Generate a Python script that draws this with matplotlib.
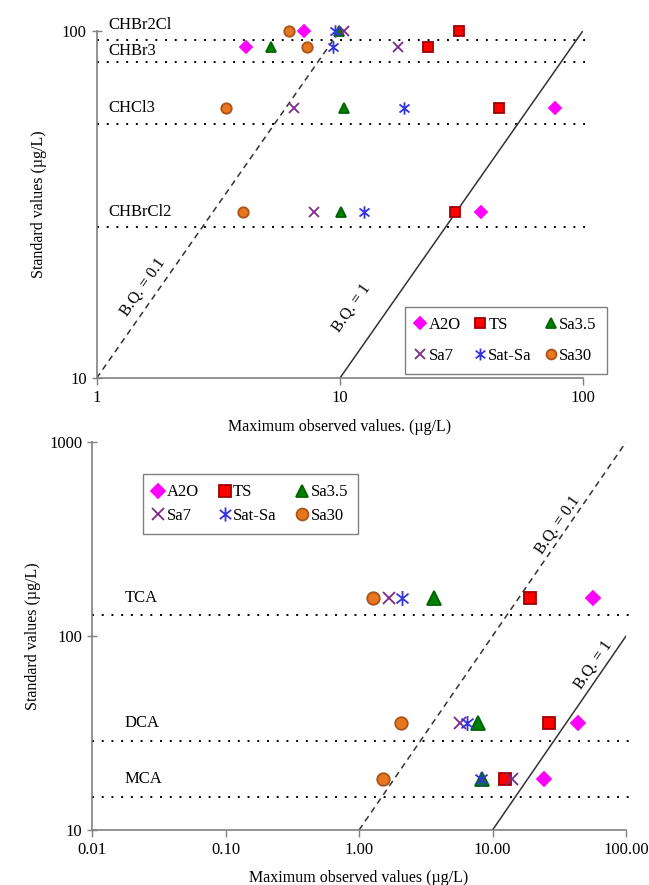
import math
import matplotlib
matplotlib.use("Agg")
import matplotlib.pyplot as plt
from matplotlib.path import Path
from matplotlib.lines import Line2D
from matplotlib.ticker import NullLocator

plt.rcParams['font.family'] = ['Liberation Serif', 'DejaVu Serif']
plt.rcParams['font.size'] = 11.5

series = ["A2O", "TS", "Sa3.5", "Sa7", "Sat-Sa", "Sa30"]

# top panel: trihalomethanes
thm_names = ["CHBr2Cl", "CHBr3", "CHCl3", "CHBrCl2"]
thm_standard = [100, 90, 60, 30]
thm_guide = [94, 81.5, 54, 27.2]
thm_values = {
    "A2O": [7.1, 4.1, 77, 38],
    "TS": [31, 23, 45, 29.8],
    "Sa3.5": [9.9, 5.2, 10.4, 10.1],
    "Sa7": [10.4, 17.4, 6.5, 7.8],
    "Sat-Sa": [9.6, 9.4, 18.3, 12.6],
    "Sa30": [6.2, 7.3, 3.4, 4.0],
}

# bottom panel: haloacetic acids
haa_names = ["TCA", "DCA", "MCA"]
haa_standard = [157, 35.6, 18.4]
haa_guide = [128, 28.8, 14.8]
haa_values = {
    "A2O": [57, 43.7, 24.5],
    "TS": [19, 26.7, 12.3],
    "Sa3.5": [3.66, 7.8, 8.3],
    "Sa7": [1.69, 5.67, 14.1],
    "Sat-Sa": [2.1, 6.4, 8.2],
    "Sa30": [1.27, 2.05, 1.52],
}

# B.Q. reference lines: y = x / bq
bq_ratios = [0.1, 1]
thm_bq_top = [95, 100]
haa_bq_top = [1000, 100]

star = Path([(0, -1), (0, 1), (-0.8, -0.65), (0.8, 0.65), (-0.8, 0.65), (0.8, -0.65)],
            [Path.MOVETO, Path.LINETO] * 3)

styles = {
    "A2O": dict(marker="D", color="#FF00FF", mec="#FF00FF", size=0.8),
    "TS": dict(marker="s", color="#FF0000", mec="#A00000", size=1.0),
    "Sa3.5": dict(marker="^", color="#008000", mec="#006400", size=1.05),
    "Sa7": dict(marker="x", color="#7B2A8A", mec="#7B2A8A", size=1.0),
    "Sat-Sa": dict(marker=star, color="#3535E0", mec="#3535E0", size=1.2),
    "Sa30": dict(marker="o", color="#E8761E", mec="#A9541A", size=1.0),
}


def handle(name, ms):
    st = styles[name]
    return Line2D([], [], ls="none", marker=st["marker"], color=st["color"],
                  mfc=st["color"], mec=st["mec"], ms=ms * st["size"], mew=1.3)


def draw_panel(ax, names, standard, guide, values, bq_top, xlim, ylim, xticks, xlabels,
               yticks, ms, label_x, label_offsets, bq_text, xlabel, ylabelpad, legend_kw):
    ax.set_xscale("log")
    ax.set_yscale("log")
    ax.set_xlim(xlim)
    ax.set_ylim(ylim)

    for g in guide:
        ax.plot([xlim[0], xlim[1] * 1.05], [g, g], color="black", lw=1.4,
                ls=(0, (1, 4)), clip_on=False)

    for ratio, top in zip(bq_ratios, bq_top):
        ls = "--" if ratio < 1 else "-"
        ax.plot([ylim[0] * ratio, top * ratio], [ylim[0], top], color="#333333",
                lw=1.1, ls=ls, dashes=(4, 3) if ratio < 1 else (None, None))

    for name in series:
        st = styles[name]
        ax.plot(values[name], standard, ls="none", marker=st["marker"], color=st["color"],
                mfc=st["color"], mec=st["mec"], ms=ms * st["size"], mew=1.3, clip_on=False)

    for n, s, off in zip(names, standard, label_offsets):
        ax.annotate(n, (label_x, s), xytext=(0, off), textcoords="offset points",
                    ha="left", va="center", fontsize=12)

    # rotation of the B.Q. lines on screen
    p1 = ax.transData.transform((ylim[0], ylim[0]))
    p2 = ax.transData.transform((ylim[0] * 10, ylim[0] * 10))
    angle = math.degrees(math.atan2(p2[1] - p1[1], p2[0] - p1[0]))
    for (tx, ty), ratio in zip(bq_text, bq_ratios):
        ax.text(tx, ty, "B.Q. = %g" % ratio, rotation=angle, ha="center", va="center",
                fontsize=11.5, rotation_mode="anchor")

    ax.set_xticks(xticks, xlabels)
    ax.set_yticks(yticks, [str(t) for t in yticks])
    ax.xaxis.set_minor_locator(NullLocator())
    ax.yaxis.set_minor_locator(NullLocator())
    ax.tick_params(axis="x", direction="out", length=5, width=1, color="#808080", labelsize=12)
    ax.tick_params(axis="y", direction="inout", length=7, width=1, color="#808080", labelsize=12)
    for side in ("top", "right"):
        ax.spines[side].set_visible(False)
    for side in ("left", "bottom"):
        ax.spines[side].set_color("#808080")
        ax.spines[side].set_linewidth(1.2)
    ax.set_xlabel(xlabel, fontsize=11.5, labelpad=9)
    ax.set_ylabel("Standard values (µg/L)", fontsize=11.5, labelpad=ylabelpad)

    # legend laid out row by row in 3 columns
    order = [0, 3, 1, 4, 2, 5]
    handles = [handle(series[i], ms * 0.95) for i in order]
    labels = [series[i] for i in order]
    leg = ax.legend(handles, labels, ncol=3, fancybox=False, edgecolor="#808080",
                    framealpha=1, fontsize=12, handlelength=0.7, handletextpad=0.15,
                    borderpad=0.6, **legend_kw)
    leg.get_frame().set_linewidth(1.0)


fig = plt.figure(figsize=(6.49, 8.85), dpi=100)
ax1 = fig.add_axes([0.1487, 0.5725, 0.7496, 0.3928])
draw_panel(ax1, thm_names, thm_standard, thm_guide, thm_values, thm_bq_top,
           xlim=(1, 100), ylim=(10, 100), xticks=[1, 10, 100], xlabels=["1", "10", "100"],
           yticks=[10, 100], ms=7.5, label_x=1.115, label_offsets=[4, -3.5, 0, 0],
           bq_text=[(1.55, 18.3), (11.2, 16.0)],
           xlabel="Maximum observed values. (µg/L)", ylabelpad=11,
           legend_kw=dict(loc="lower left", bbox_to_anchor=(0.616, -0.011),
                          columnspacing=0.8, labelspacing=0.9))

ax2 = fig.add_axes([0.1418, 0.0621, 0.8228, 0.4384])
draw_panel(ax2, haa_names, haa_standard, haa_guide, haa_values, haa_bq_top,
           xlim=(0.01, 100), ylim=(10, 1000), xticks=[0.01, 0.1, 1, 10, 100],
           xlabels=["0.01", "0.10", "1.00", "10.00", "100.00"],
           yticks=[10, 100, 1000], ms=9, label_x=0.0175, label_offsets=[0, 0, 0],
           bq_text=[(30.8, 373), (56.4, 70.8)],
           xlabel="Maximum observed values (µg/L)", ylabelpad=6,
           legend_kw=dict(loc="upper left", bbox_to_anchor=(0.079, 0.938),
                          columnspacing=1.2, labelspacing=0.45))

fig.savefig("out.png", dpi=100)
